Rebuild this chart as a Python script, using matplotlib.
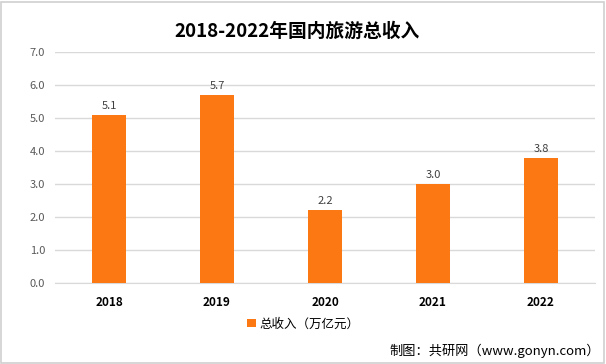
import matplotlib.pyplot as plt
from matplotlib.patches import Rectangle

plt.rcParams['font.family'] = ['Noto Sans CJK SC', 'DejaVu Sans']

years = ['2018', '2019', '2020', '2021', '2022']
income = [5.1, 5.7, 2.2, 3.0, 3.8]
bar_color = '#FB7813'

fig = plt.figure(figsize=(6.06, 3.64), dpi=100)
ax = fig.add_axes([0.0908, 0.2225, 0.891, 0.635])

x = list(range(len(years)))
bars = ax.bar(x, income, width=0.32, color=bar_color, label='总收入（万亿元）', zorder=3)
for xi, v in zip(x, income):
    ax.text(xi, v + 0.12, f'{v:.1f}', ha='center', va='bottom', fontsize=8, color='#404040')

ax.set_xlim(-0.5, 4.5)
ax.set_ylim(0, 7)
ax.set_yticks([i for i in range(8)])
ax.set_yticklabels([f'{i:.1f}' for i in range(8)], fontsize=8, color='#595959')
ax.set_xticks(x)
ax.set_xticklabels(years, fontsize=8.5, fontweight='bold', color='black')
ax.tick_params(axis='both', length=0)
ax.tick_params(axis='x', pad=9)
ax.tick_params(axis='y', pad=7)
ax.grid(axis='y', color='#D9D9D9', linewidth=1, zorder=0)
for s in ['top', 'right', 'left']:
    ax.spines[s].set_visible(False)
ax.spines['bottom'].set_color('#D9D9D9')

fig.text(0.49, 0.915, '2018-2022年国内旅游总收入', ha='center', va='center',
         fontsize=13.5, fontweight='bold')
fig.legend(loc='center', bbox_to_anchor=(0.5, 0.11), frameon=False, fontsize=9,
           handlelength=0.7, handleheight=0.7, handletextpad=0.3)
fig.text(0.99, 0.035, '制图：共研网（www.gonyn.com）', ha='right', va='center', fontsize=9.5)

fig.patches.append(Rectangle((0.002, 0.003), 0.995, 0.992, transform=fig.transFigure,
                             fill=False, edgecolor='#D0D0D0', linewidth=1.2))

fig.savefig('out.png', dpi=100)
